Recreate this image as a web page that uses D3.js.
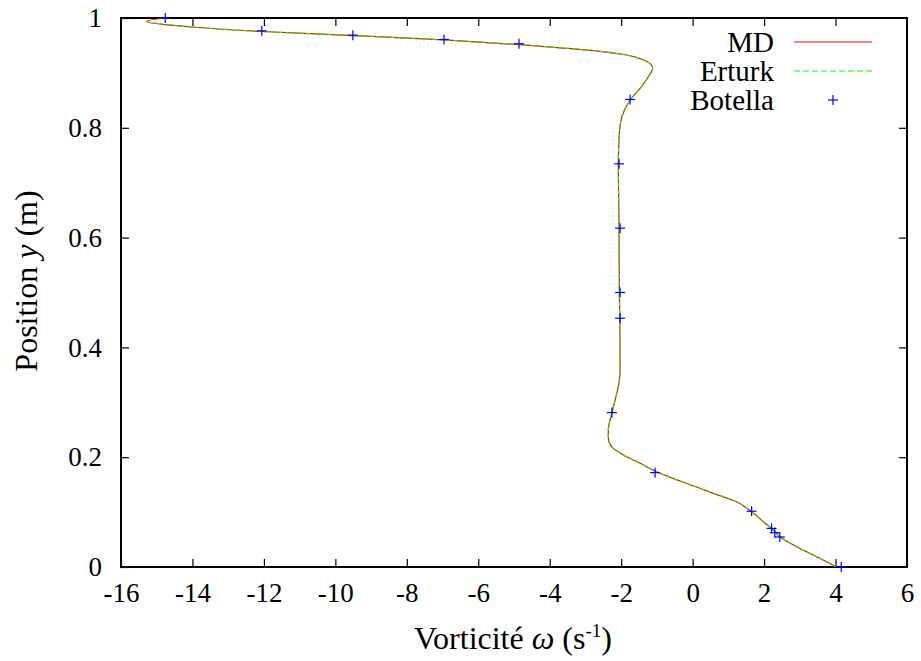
<!DOCTYPE html>
<html><head><meta charset="utf-8">
<script src="https://cdn.jsdelivr.net/npm/d3@7"></script>
<style>body{margin:0;background:#fff;} svg text{font-family:"Liberation Serif","DejaVu Serif",serif !important;}</style>
</head><body>
<svg id="chart" width="921" height="661"></svg>
<script>
// MD (red solid) : vorticity omega vs position y
const mdOmega = [-14.77,-15.30,-14.01,-12.05,-9.51,-6.96,-4.84,-3.53,-2.59,-1.85,-1.38,-1.15,-1.12,-1.24,-1.47,-1.75,-1.98,-2.05,-2.08,-2.06,-2.05,-2.04,-2.03,-2.05,-2.08,-2.17,-2.26,-2.36,-2.36,-2.27,-1.94,-1.47,-1.01,-0.35,0.20,0.58,1.23,1.65,1.98,2.26,2.44,2.91,3.56,4.03];
const mdY     = [1.0,0.9936,0.9836,0.9754,0.968,0.960,0.9514,0.9448,0.9393,0.9326,0.9235,0.9144,0.9084,0.8931,0.8720,0.8506,0.8202,0.7905,0.7353,0.6169,0.4985,0.4530,0.3648,0.3406,0.3284,0.3042,0.2800,0.2495,0.2344,0.2191,0.2040,0.1889,0.1736,0.1566,0.1434,0.1342,0.1189,0.1007,0.0825,0.0674,0.0552,0.0370,0.0158,0.0];
// Erturk (green dashed)
const erOmega = [-15.30,-14.01,-12.05,-9.51,-6.96,-4.84,-3.53,-2.59,-1.85,-1.38,-1.15,-1.12,-1.24,-1.47,-1.75,-1.98,-2.05,-2.08,-2.06,-2.05,-2.04,-2.03,-2.05,-2.08,-2.17,-2.26,-2.36,-2.36,-2.27,-1.94,-1.47,-1.01,-0.35,0.20,0.58,1.23,1.65,1.98,2.26,2.44,2.91,3.56,4.03];
const erY     = [0.9936,0.9836,0.9754,0.968,0.960,0.9514,0.9448,0.9393,0.9326,0.9235,0.9144,0.9084,0.8931,0.8720,0.8506,0.8202,0.7905,0.7353,0.6169,0.4985,0.4530,0.3648,0.3406,0.3284,0.3042,0.2800,0.2495,0.2344,0.2191,0.2040,0.1889,0.1736,0.1566,0.1434,0.1342,0.1189,0.1007,0.0825,0.0674,0.0552,0.0370,0.0158,0.0];
// Botella (blue plus)
const boOmega = [-14.76,-12.06,-9.51,-6.96,-4.86,-1.75,-2.06,-2.03,-2.03,-2.03,-2.26,-1.05,1.65,2.21,2.30,2.44,4.16];
const boY     = [1.0,0.9766,0.9688,0.9609,0.9531,0.8516,0.7344,0.6172,0.5,0.4531,0.2813,0.1719,0.1016,0.0703,0.0625,0.0547,0.0];

const xTicks = [-16,-14,-12,-10,-8,-6,-4,-2,0,2,4,6];
const yTicks = [0,0.2,0.4,0.6,0.8,1];
const seriesNames = ["MD","Erturk","Botella"];

const FONT = "Liberation Serif, DejaVu Serif, serif";
const svg = d3.select("#chart");
const L=121, R=907, T=18, B=567;
const x = d3.scaleLinear().domain([-16,6]).range([L,R]);
const y = d3.scaleLinear().domain([0,1]).range([B,T]);
const fs = 27, fsBig = 32, fsLeg = 29, tick = 8;

const styleAxis = a=>{
  a.attr("font-family",FONT);
  a.select(".domain").remove();
  a.selectAll("text").attr("font-size",fs).attr("fill","#000").attr("font-family",FONT);
  a.selectAll("line").attr("stroke","#000").attr("stroke-width",1.2);
};
// axes with inward ticks
const g = svg.append("g");
g.append("g").attr("transform",`translate(0,${B})`)
 .call(d3.axisBottom(x).tickValues(xTicks).tickSize(-tick).tickPadding(16).tickFormat(d=>String(d)))
 .call(styleAxis).call(a=>a.selectAll("text").attr("dy","0.72em"));
g.append("g").attr("transform",`translate(0,${T})`)
 .call(d3.axisTop(x).tickValues(xTicks.slice(1,-1)).tickSize(-tick).tickFormat(""))
 .call(styleAxis);
g.append("g").attr("transform",`translate(${L},0)`)
 .call(d3.axisLeft(y).tickValues(yTicks).tickSize(-tick).tickPadding(19).tickFormat(d=>d===0||d===1?String(d):d3.format(".1f")(d)))
 .call(styleAxis);
g.append("g").attr("transform",`translate(${R},0)`)
 .call(d3.axisRight(y).tickValues(yTicks.slice(1,-1)).tickSize(-tick).tickFormat(""))
 .call(styleAxis);
svg.append("rect").attr("x",L).attr("y",T).attr("width",R-L).attr("height",B-T)
 .attr("fill","none").attr("stroke","#000").attr("stroke-width",2);

// axis titles
const xt = svg.append("text").attr("x",513).attr("y",649).attr("text-anchor","middle").attr("font-size",fsBig).attr("font-family",FONT);
xt.append("tspan").text("Vorticité ");
xt.append("tspan").attr("font-style","italic").text("ω");
xt.append("tspan").text(" (s");
xt.append("tspan").attr("font-size",19).attr("dy",-12).text("-1");
xt.append("tspan").attr("dy",12).text(")");
const yt = svg.append("text").attr("transform","translate(37,281) rotate(-90)").attr("text-anchor","middle").attr("font-size",fsBig).attr("font-family",FONT);
yt.append("tspan").text("Position ");
yt.append("tspan").attr("font-style","italic").text("y");
yt.append("tspan").text(" (m)");

// data lines
const line = d3.line().x(d=>x(d[0])).y(d=>y(d[1])).curve(d3.curveMonotoneY);
const md = mdOmega.map((v,i)=>[v,mdY[i]]);
const er = erOmega.map((v,i)=>[v,erY[i]]);
const bo = boOmega.map((v,i)=>[v,boY[i]]);
svg.append("path").attr("d",line(md)).attr("fill","none").attr("stroke","#ff0000").attr("stroke-width",1.2);
svg.append("path").attr("d",line(er)).attr("fill","none").attr("stroke","#00ff00").attr("stroke-width",1.2).attr("stroke-dasharray","4,3");
const plus = (sel,px,py)=>{
  sel.append("line").attr("x1",px-5).attr("x2",px+5).attr("y1",py).attr("y2",py).attr("stroke","#0000ff").attr("stroke-width",1.2);
  sel.append("line").attr("x1",px).attr("x2",px).attr("y1",py-5).attr("y2",py+5).attr("stroke","#0000ff").attr("stroke-width",1.2);
};
const pg = svg.append("g");
bo.forEach(d=>plus(pg,x(d[0]),y(d[1])));

// legend
const ly = [42,71,100];
seriesNames.forEach((n,i)=>{
  svg.append("text").attr("x",774).attr("y",ly[i]).attr("dy","0.35em").attr("text-anchor","end").attr("font-size",fsLeg).attr("font-family",FONT).text(n);
});
svg.append("line").attr("x1",794).attr("x2",872).attr("y1",ly[0]).attr("y2",ly[0]).attr("stroke","#ff0000").attr("stroke-width",1.2);
svg.append("line").attr("x1",794).attr("x2",872).attr("y1",ly[1]).attr("y2",ly[1]).attr("stroke","#00ff00").attr("stroke-width",1.2).attr("stroke-dasharray","6,3");
plus(svg,833,ly[2]);
</script>
</body></html>
